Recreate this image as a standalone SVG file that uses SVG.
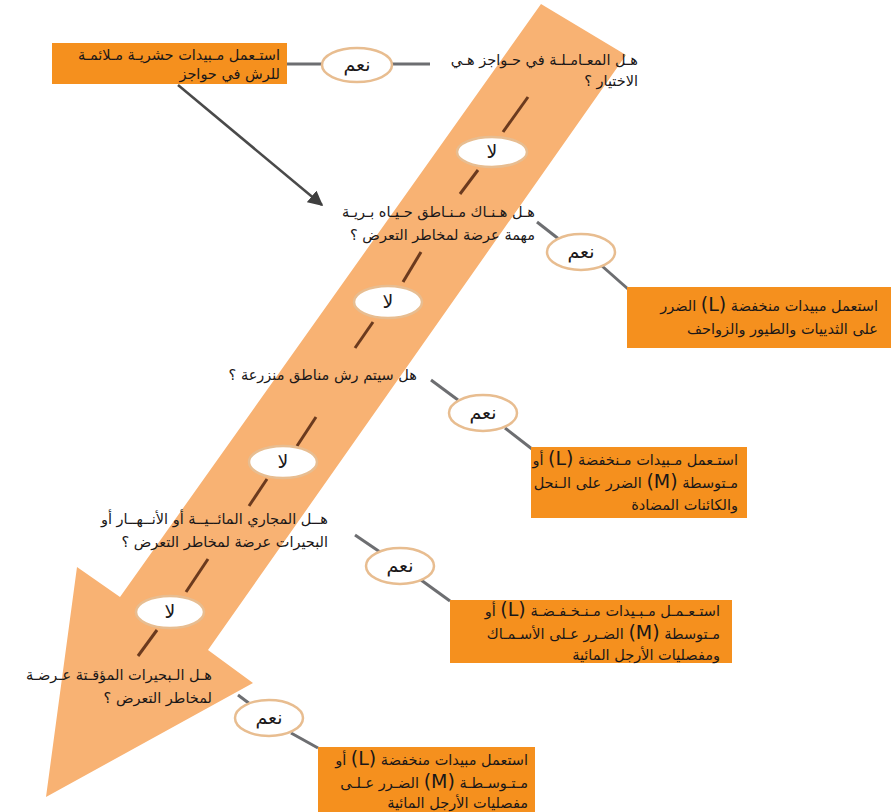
<svg xmlns="http://www.w3.org/2000/svg" width="891" height="812" viewBox="0 0 891 812">
<defs>
<style>
.t{font-family:"DejaVu Sans","Noto Sans",sans-serif;font-size:14.5px;fill:#1A1718;}
.big{font-size:19px;}
.e{font-family:"DejaVu Sans","Noto Sans",sans-serif;font-size:19px;fill:#1A1718;}
.box{fill:#F5901E;}
.oval{fill:#FFFFFF;stroke:#E8BD90;stroke-width:2.5;}
.con{stroke:#6D6E71;stroke-width:3;fill:none;}
.dash{stroke:#6B3A1E;stroke-width:3;fill:none;}
</style>
<marker id="ah" viewBox="0 0 10 10" refX="9" refY="5" markerWidth="6" markerHeight="6" orient="auto" markerUnits="strokeWidth">
<path d="M0,0 L10,5 L0,10 z" fill="#3F3F3F"/>
</marker>
</defs>
<rect width="891" height="812" fill="#FFFFFF"/>

<g id="flow-band">
<polygon points="541,4 626,55 208,650 253,683 46,797 77,567 120,597" fill="#F8B273"/>
</g>

<g id="connectors">
<line class="con" x1="287" y1="64" x2="430" y2="64"/>
<line x1="178" y1="85" x2="322" y2="205" stroke="#4A4A4A" stroke-width="2.5" marker-end="url(#ah)"/>
<line class="dash" x1="528" y1="97" x2="503" y2="132"/>
<line class="dash" x1="478" y1="170" x2="460" y2="194"/>
<line class="con" x1="537" y1="222" x2="560" y2="240"/>
<line class="con" x1="602" y1="266" x2="628" y2="289"/>
<line class="dash" x1="421" y1="252" x2="403" y2="282"/>
<line class="dash" x1="373" y1="322" x2="355" y2="348"/>
<line class="con" x1="431" y1="380" x2="458" y2="400"/>
<line class="con" x1="505" y1="428" x2="532" y2="449"/>
<line class="dash" x1="316" y1="417" x2="297" y2="446"/>
<line class="dash" x1="267" y1="479" x2="249" y2="506"/>
<line class="con" x1="355" y1="535" x2="380" y2="552"/>
<line class="con" x1="421" y1="580" x2="450" y2="601"/>
<line class="dash" x1="208" y1="559" x2="186" y2="592"/>
<line class="dash" x1="157" y1="630" x2="138" y2="656"/>
<line class="con" x1="238" y1="695" x2="250" y2="704"/>
<line class="con" x1="291" y1="733" x2="318" y2="748"/>
</g>

<g id="action-1">
<rect class="box" x="52" y="43" width="235" height="41"/>
<text class="t" x="280" y="60" direction="rtl" text-anchor="start">استـعمل مـبيدات حشريـة مـلائمـة</text>
<text class="t" x="280" y="79" direction="rtl" text-anchor="start">للرش في حواجز</text>
</g>
<g id="yes-1">
<ellipse class="oval" cx="357" cy="65" rx="35" ry="17"/>
<text class="e" x="357" y="71" text-anchor="middle">نعم</text>
</g>
<g id="question-1">
<text class="t" x="638" y="65" direction="rtl" text-anchor="start">هـل المعـامـلـة في حـواجز هـي</text>
<text class="t" x="638" y="86" direction="rtl" text-anchor="start">الاختيار ؟</text>
</g>
<g id="no-1">
<ellipse class="oval" cx="492" cy="152" rx="35" ry="15"/>
<text class="e" x="492" y="158" text-anchor="middle">لا</text>
</g>

<g id="question-2">
<text class="t" x="535" y="217" direction="rtl" text-anchor="start">هـل هـنـاك مـنـاطق حـيـاه بـريـة</text>
<text class="t" x="535" y="240" direction="rtl" text-anchor="start">مهمة عرضة لمخاطر التعرض ؟</text>
</g>
<g id="yes-2">
<ellipse class="oval" cx="581" cy="252" rx="34" ry="18"/>
<text class="e" x="581" y="258" text-anchor="middle">نعم</text>
</g>
<g id="action-2">
<rect class="box" x="627" y="287" width="264" height="61"/>
<text class="t" x="878" y="311" direction="rtl" text-anchor="start">استعمل مبيدات منخفضة <tspan class="big">(L)</tspan> الضرر</text>
<text class="t" x="878" y="334" direction="rtl" text-anchor="start">على الثدييات والطيور والزواحف</text>
</g>
<g id="no-2">
<ellipse class="oval" cx="388" cy="302" rx="34" ry="16"/>
<text class="e" x="388" y="308" text-anchor="middle">لا</text>
</g>

<g id="question-3">
<text class="t" x="417" y="380" direction="rtl" text-anchor="start">هل سيتم رش مناطق منزرعة ؟</text>
</g>
<g id="yes-3">
<ellipse class="oval" cx="483" cy="413" rx="34" ry="18"/>
<text class="e" x="483" y="419" text-anchor="middle">نعم</text>
</g>
<g id="action-3">
<rect class="box" x="531" y="447" width="216" height="71"/>
<text class="t" x="738" y="465" direction="rtl" text-anchor="start">استـعمل مـبيدات مـنخفضة <tspan class="big">(L)</tspan> أو</text>
<text class="t" x="738" y="488" direction="rtl" text-anchor="start">مـتوسطة <tspan class="big">(M)</tspan> الضرر على الـنحل</text>
<text class="t" x="738" y="510" direction="rtl" text-anchor="start">والكائنات المضادة</text>
</g>
<g id="no-3">
<ellipse class="oval" cx="283" cy="462" rx="34" ry="16"/>
<text class="e" x="283" y="468" text-anchor="middle">لا</text>
</g>

<g id="question-4">
<text class="t" x="328" y="524" direction="rtl" text-anchor="start">هــل المجاري المائــيــة أو الأنــهــار أو</text>
<text class="t" x="328" y="547" direction="rtl" text-anchor="start">البحيرات عرضة لمخاطر التعرض ؟</text>
</g>
<g id="yes-4">
<ellipse class="oval" cx="400" cy="566" rx="34" ry="18"/>
<text class="e" x="400" y="572" text-anchor="middle">نعم</text>
</g>
<g id="action-4">
<rect class="box" x="450" y="600" width="282" height="63"/>
<text class="t" x="720" y="616" direction="rtl" text-anchor="start">استـعـمـل مـبـيدات مـنـخـفـضـة <tspan class="big">(L)</tspan>   أو</text>
<text class="t" x="720" y="639" direction="rtl" text-anchor="start">مـتوسطة <tspan class="big">(M)</tspan>   الضـرر عـلى الأسـمـاك</text>
<text class="t" x="720" y="660" direction="rtl" text-anchor="start">ومفصليات الأرجل المائية</text>
</g>
<g id="no-4">
<ellipse class="oval" cx="170" cy="612" rx="34" ry="16"/>
<text class="e" x="170" y="618" text-anchor="middle">لا</text>
</g>

<g id="question-5">
<text class="t" x="212" y="680" direction="rtl" text-anchor="start">هـل الـبحيرات المؤقـتة عـرضـة</text>
<text class="t" x="212" y="703" direction="rtl" text-anchor="start">لمخاطر التعرض ؟</text>
</g>
<g id="yes-5">
<ellipse class="oval" cx="269" cy="718" rx="34" ry="18"/>
<text class="e" x="269" y="724" text-anchor="middle">نعم</text>
</g>
<g id="action-5">
<rect class="box" x="318" y="747" width="217" height="65"/>
<text class="t" x="528" y="765" direction="rtl" text-anchor="start">استعمل مبيدات منخفضة <tspan class="big">(L)</tspan> أو</text>
<text class="t" x="528" y="788" direction="rtl" text-anchor="start">مـتـوسـطـة <tspan class="big">(M)</tspan>    الضـرر عـلـى</text>
<text class="t" x="528" y="808" direction="rtl" text-anchor="start">مفصليات الأرجل المائية</text>
</g>
</svg>
